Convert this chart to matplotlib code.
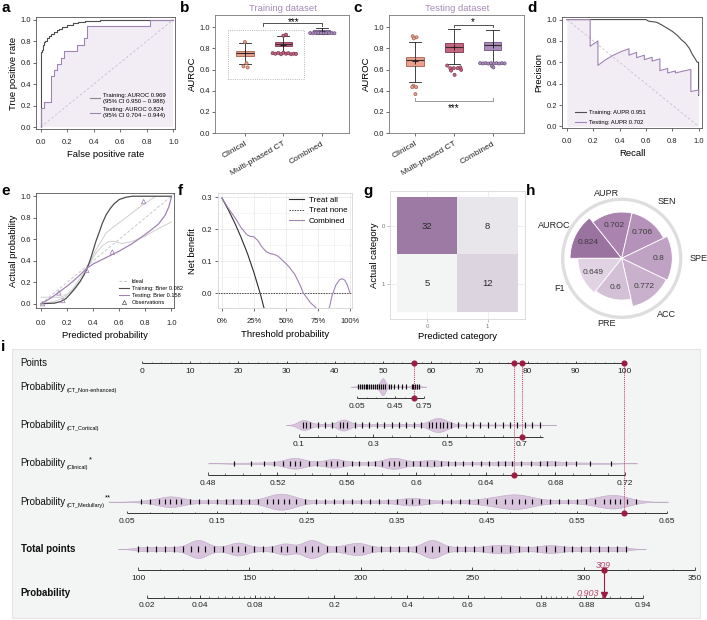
import numpy as np
import matplotlib
matplotlib.use("Agg")
import matplotlib.pyplot as plt
from matplotlib.lines import Line2D
from matplotlib.colors import LinearSegmentedColormap
from matplotlib import transforms

plt.rcParams['font.family'] = ['Liberation Sans', 'DejaVu Sans']
plt.rcParams['axes.linewidth'] = 0.6

W, H = 707, 620

DARK = '#4d4d4d'
PURPLE = '#a084b4'
FILL = '#f2edf5'
DIAG = '#c9bdd2'
CLIN, MULTI, COMB = '#e9a18d', '#c6667f', '#ab8dba'
CLIN_E, MULTI_E, COMB_E = '#a45f50', '#7e3450', '#6d5480'
RED = '#9e1c44'
RED_L = '#c2395e'

# ---------------- data ----------------
# a: ROC curves
roc_train_fpr = [0, 0, 0.005, 0.01, 0.015, 0.025, 0.035, 0.045, 0.06, 0.08, 0.10, 0.12,
                 0.14, 0.16, 0.20, 0.24, 0.28, 0.33, 0.45, 1.0]
roc_train_tpr = [0, 0.61, 0.70, 0.72, 0.76, 0.79, 0.80, 0.83, 0.85, 0.87, 0.88, 0.90,
                 0.91, 0.93, 0.95, 0.97, 0.98, 0.99, 1.0, 1.0]
roc_test_fpr = [0, 0, 0.025, 0.025, 0.075, 0.075, 0.1, 0.1, 0.125, 0.125, 0.15, 0.15,
                0.175, 0.175, 0.275, 0.275, 0.325, 0.325, 0.35, 0.35, 0.825, 0.825, 1.0]
roc_test_tpr = [0, 0.176, 0.176, 0.235, 0.235, 0.471, 0.471, 0.529, 0.529, 0.588, 0.588,
                0.647, 0.647, 0.706, 0.706, 0.765, 0.765, 0.824, 0.824, 0.941, 0.941, 1.0, 1.0]

# b / c: AUROC box plots
groups = ['Clinical', 'Multi-phased CT', 'Combined']
b_q1 = [0.725, 0.82, 0.945]
b_med = [0.755, 0.84, 0.958]
b_q3 = [0.78, 0.858, 0.972]
b_lo = [0.652, 0.758, 0.935]
b_hi = [0.852, 0.918, 0.99]
b_mean = [0.76, 0.835, 0.96]
b_fl_grp = [0, 0, 0, 0, 1, 1, 1, 1, 1, 1, 1, 1, 1, 1, 1, 1, 2, 2, 2, 2, 2, 2, 2, 2, 2, 2]
b_fl_off = [0.0, 0.04, -0.04, 0.07, -0.28, -0.21, -0.13, -0.06, 0.0, 0.07, 0.13, 0.2,
            0.27, 0.33, 0.0, 0.07, -0.3, -0.23, -0.16, -0.09, -0.02, 0.05, 0.12, 0.19, 0.26, 0.33]
b_fl_val = [0.86, 0.66, 0.63, 0.62, 0.755, 0.75, 0.757, 0.745, 0.76, 0.75, 0.755, 0.745,
            0.75, 0.748, 0.92, 0.93, 0.945, 0.943, 0.946, 0.944, 0.945, 0.943, 0.946, 0.944,
            0.945, 0.943]

c_q1 = [0.629, 0.77, 0.786]
c_med = [0.686, 0.818, 0.833]
c_q3 = [0.723, 0.855, 0.865]
c_lo = [0.484, 0.65, 0.66]
c_hi = [0.865, 0.98, 0.97]
c_mean = [0.68, 0.815, 0.828]
c_fl_grp = [0, 0, 0, 0, 0, 0, 0, 1, 1, 1, 1, 1, 1, 1, 1,
            2, 2, 2, 2, 2, 2, 2, 2, 2, 2, 2, 2]
c_fl_off = [-0.06, 0.04, -0.03, -0.04, 0.03, -0.07, 0.01, -0.17, -0.09, 0.0, 0.1, 0.19,
            0.02, -0.07, 0.17, -0.32, -0.25, -0.18, -0.11, -0.04, 0.03, 0.1, 0.17, 0.24,
            0.31, -0.02, 0.02]
c_fl_val = [0.915, 0.905, 0.895, 0.447, 0.434, 0.434, 0.368, 0.638, 0.613, 0.613, 0.613,
            0.597, 0.55, 0.59, 0.62, 0.66, 0.658, 0.66, 0.657, 0.66, 0.658, 0.66, 0.657,
            0.66, 0.658, 0.635, 0.62]

# d: PR curves
pr_train_rec = [0, 0.6, 0.62, 0.68, 0.72, 0.76, 0.8, 0.84, 0.87, 0.9, 0.93, 0.95, 0.97,
                0.99, 1.0, 1.0]
pr_train_pre = [1.0, 1.0, 0.985, 0.975, 0.95, 0.92, 0.89, 0.85, 0.81, 0.78, 0.73, 0.68,
                0.64, 0.6, 0.6, 0.29]
pr_test_rec = [0, 0.176, 0.176, 0.235, 0.235, 0.294, 0.353, 0.412, 0.471, 0.471, 0.529,
               0.529, 0.588, 0.588, 0.647, 0.647, 0.706, 0.706, 0.765, 0.765, 0.824, 0.824,
               0.882, 0.941, 0.941, 1.0, 1.0]
pr_test_pre = [1.0, 1.0, 0.75, 0.8, 0.571, 0.625, 0.667, 0.7, 0.727, 0.667, 0.692, 0.643,
               0.667, 0.625, 0.647, 0.611, 0.632, 0.522, 0.542, 0.5, 0.519, 0.5, 0.517,
               0.533, 0.327, 0.34, 0.298]

# e: calibration
cal_train_x = [0, 0.1, 0.15, 0.19, 0.23, 0.27, 0.3, 0.33, 0.35, 0.38, 0.4, 0.42, 0.45,
               0.47, 0.5, 0.53, 0.56, 0.6, 0.65, 0.7, 1.0]
cal_train_y = [0, 0.005, 0.02, 0.047, 0.1, 0.16, 0.21, 0.27, 0.32, 0.42, 0.5, 0.58, 0.68,
               0.75, 0.83, 0.885, 0.93, 0.97, 0.99, 1.0, 1.0]
cal_test_x = [0, 0.05, 0.1, 0.15, 0.2, 0.25, 0.3, 0.35, 0.4, 0.5, 0.6, 0.7, 0.8, 0.9,
              0.95, 0.98, 1.0]
cal_test_y = [0, 0.035, 0.075, 0.12, 0.165, 0.215, 0.27, 0.33, 0.37, 0.43, 0.49, 0.56,
              0.645, 0.74, 0.82, 0.9, 0.99]
cal_g1_x = [0.0, 0.15, 0.25, 0.3, 0.35, 0.42, 0.5, 0.55, 0.65, 0.78, 0.88]
cal_g1_y = [0.06, 0.06, 0.12, 0.2, 0.33, 0.5, 0.66, 0.71, 0.8, 0.92, 1.0]
cal_g2_x = [0.35, 0.42, 0.47, 0.52, 0.56, 0.62, 0.7, 0.8, 0.9, 1.0]
cal_g2_y = [0.33, 0.47, 0.54, 0.58, 0.58, 0.56, 0.58, 0.63, 0.7, 0.76]
cal_g3_x = [0.0, 0.1, 0.18, 0.25, 0.3, 0.35]
cal_g3_y = [0.0, 0.02, 0.06, 0.15, 0.24, 0.33]
obs_x = [0.01, 0.136, 0.167, 0.35, 0.546, 0.787]
obs_y = [0.0, 0.10, 0.03, 0.31, 0.48, 0.95]

# f: decision curve
dca_all_t = [0, 0.05, 0.1, 0.15, 0.2, 0.25, 0.3, 0.35]
dca_all_nb = [0.298, 0.261, 0.22, 0.174, 0.123, 0.064, -0.003, -0.08]
dca_comb_t = [0, 0.05, 0.104, 0.15, 0.195, 0.22, 0.247, 0.28, 0.31, 0.345, 0.377, 0.41,
              0.44, 0.48, 0.52, 0.57, 0.61, 0.636, 0.69, 0.75, 0.8, 0.84, 0.86, 0.89,
              0.92, 0.94, 0.96, 0.98, 1.0]
dca_comb_nb = [0.298, 0.266, 0.235, 0.205, 0.183, 0.178, 0.177, 0.165, 0.146, 0.13,
               0.124, 0.121, 0.115, 0.1, 0.084, 0.058, 0.025, 0.0, -0.03, -0.052, -0.065,
               -0.045, -0.008, 0.025, 0.042, 0.045, 0.04, 0.025, 0.0]

# g: confusion matrix (rows actual 0/1, cols predicted 0/1)
conf = [[32, 8], [5, 12]]

# h: metrics rose
metric_names = ['AUROC', 'AUPR', 'SEN', 'SPE', 'ACC', 'PRE', 'F1']
metric_vals = [0.824, 0.702, 0.706, 0.8, 0.772, 0.6, 0.649]
metric_cols = ['#9b73a0', '#aa83af', '#b492b9', '#bfa2c4', '#c9b1cd', '#d3c0d7', '#e1d3e4']

# i: nomogram (points = intercept + slope * value)
pts_int = [43.6, 24.9, -159.3, -12.4]
pts_slope = [19.86, 76.8, 360.4, 186.7]
tot_int, tot_slope = -47.05, 0.4622      # total points -> points-scale position
lp_int, lp_slope = -6.995, 0.02983       # total points -> logit(probability)
patient_vals = [0.646, 0.703, 0.656, 0.602]
patient_total = 309
patient_prob = 0.903

ne_vals = [0.06, 0.08, 0.10, 0.12, 0.14, 0.16, 0.18, 0.20, 0.22, 0.24, 0.26, 0.28, 0.30,
           0.32, 0.34, 0.38, 0.41, 0.44, 0.48, 0.52, 0.56, 0.62, 0.64, 0.66, 0.68, 0.70]
ne_cnt = [2, 2, 2, 2, 2, 2, 2, 2, 2, 2, 2, 2, 3, 30, 4, 1, 1, 1, 1, 1, 1, 3, 3, 3, 3, 2]
co_vals = [0.11, 0.12, 0.13, 0.15, 0.17, 0.19, 0.21, 0.22, 0.23, 0.25, 0.27, 0.29, 0.31,
           0.33, 0.35, 0.37, 0.39, 0.41, 0.43, 0.45, 0.46, 0.47, 0.48, 0.49, 0.50, 0.51,
           0.53, 0.55, 0.57, 0.59, 0.61, 0.63, 0.65, 0.67, 0.69, 0.71, 0.73, 0.75]
co_cnt = [14, 3, 2, 2, 2, 2, 3, 14, 3, 2, 2, 2, 2, 2, 2, 2, 2, 2, 2, 4, 6, 8, 8, 6, 4, 2,
          1, 1, 1, 1, 1, 1, 1, 1, 1, 1, 1, 1]
cl_vals = [0.495, 0.505, 0.512, 0.518, 0.523, 0.527, 0.530, 0.533, 0.538, 0.543, 0.548,
           0.551, 0.554, 0.558, 0.563, 0.567, 0.572, 0.576, 0.580, 0.584, 0.587, 0.590,
           0.594, 0.598, 0.602, 0.606, 0.610, 0.614, 0.618, 0.622, 0.627, 0.632, 0.637,
           0.642, 0.647, 0.651, 0.655, 0.660, 0.666, 0.671, 0.675, 0.680, 0.686, 0.692,
           0.700, 0.712]
cl_cnt = [1, 1, 1, 1, 1, 4, 4, 4, 1, 1, 1, 4, 4, 1, 1, 1, 1, 1, 1, 4, 4, 4, 1, 1, 1, 3,
          3, 1, 1, 1, 1, 1, 1, 1, 1, 2, 1, 1, 1, 1, 2, 2, 1, 1, 1, 1]
me_vals = [0.065, 0.075, 0.085, 0.092, 0.098, 0.104, 0.11, 0.12, 0.13, 0.14, 0.15, 0.16,
           0.168, 0.176, 0.185, 0.195, 0.205, 0.212, 0.218, 0.224, 0.23, 0.238, 0.248,
           0.26, 0.27, 0.28, 0.29, 0.30, 0.31, 0.32, 0.33, 0.34, 0.35, 0.36, 0.367, 0.374,
           0.385, 0.40, 0.41, 0.42, 0.43, 0.44, 0.45, 0.46, 0.47, 0.478, 0.485, 0.492,
           0.50, 0.51, 0.52, 0.53, 0.54, 0.55, 0.56, 0.57, 0.58, 0.586, 0.592, 0.598,
           0.605, 0.615]
me_cnt = [1, 1, 1, 4, 4, 4, 1, 1, 1, 1, 1, 1, 3, 1, 1, 1, 2, 5, 5, 5, 5, 2, 1, 1, 1, 1,
          1, 1, 1, 1, 1, 1, 1, 3, 3, 3, 1, 1, 1, 1, 1, 2, 3, 4, 5, 5, 5, 4, 3, 2, 1, 1, 1,
          1, 2, 3, 4, 4, 4, 4, 3, 1]
to_vals = [100, 104, 108, 112, 116, 120, 124, 127, 130, 134, 138, 142, 145, 148, 152, 156,
           160, 164, 167, 171, 175, 178, 181, 185, 189, 193, 197, 201, 205, 209, 213, 217,
           221, 225, 229, 232, 235, 239, 243, 247, 251, 255, 259, 263, 267, 271, 275, 279,
           283, 287, 291, 295, 299, 303, 307, 311, 315, 319]
to_cnt = [1, 1, 1, 1, 1, 1, 3, 4, 3, 1, 1, 2, 3, 2, 1, 1, 1, 2, 3, 1, 3, 4, 3, 1, 1, 2, 3,
          3, 1, 1, 1, 1, 1, 1, 3, 4, 3, 1, 1, 1, 1, 1, 2, 2, 2, 1, 1, 1, 2, 2, 1, 1, 1, 1,
          1, 1, 1, 1]

fig = plt.figure(figsize=(W / 100, H / 100), dpi=100)


def frac(x0, y0, x1, y1):
    return [x0 / W, 1 - y1 / H, (x1 - x0) / W, (y1 - y0) / H]


def rstyle(ax, xpad=4.5, ypad=1.2, frame='#555555'):
    for s in ax.spines.values():
        s.set_color(frame)
        s.set_linewidth(0.6)
    ax.tick_params(length=2.5, width=0.5, labelsize=5.5, color='#333333',
                   labelcolor='#222222')
    ax.tick_params(axis='x', pad=xpad)
    ax.tick_params(axis='y', pad=ypad)


def panel_label(x, y, s):
    fig.text(x / W, 1 - y / H, s, fontsize=11, fontweight='bold', va='top', ha='left')


ticks01 = np.arange(0, 1.01, 0.2)

# ---------------- a ----------------
ax = fig.add_axes(frac(36, 17, 175, 129))
ax.fill_between(roc_test_fpr, roc_test_tpr, 0, color=FILL, lw=0, zorder=0)
ax.plot([0, 1], [0, 1], ls=(0, (3, 2.5)), color=DIAG, lw=0.6)
ax.step(roc_train_fpr, roc_train_tpr, where='post', color=DARK, lw=0.8)
ax.plot(roc_test_fpr, roc_test_tpr, color=PURPLE, lw=0.8)
ax.set_xlim(-0.036, 1.012)
ax.set_ylim(-0.018, 1.024)
ax.set_xticks(ticks01)
ax.set_yticks(ticks01)
rstyle(ax)
ax.set_xlabel('False positive rate', fontsize=6.8, labelpad=3)
ax.set_ylabel('True positive rate', fontsize=6.8, labelpad=2)
ax.legend([Line2D([], [], color='#888888', lw=0.8), Line2D([], [], color=PURPLE, lw=0.8)],
          ['Training: AUROC 0.969\n(95% CI 0.950 \u2013 0.988)',
           'Testing: AUROC 0.824\n(95% CI 0.704 \u2013 0.944)'],
          loc='center left', bbox_to_anchor=(0.39, 0.21), fontsize=4.3, frameon=False,
          handlelength=1.7, handletextpad=0.5, labelspacing=0.6, borderpad=0,
          borderaxespad=0)
panel_label(1, 1, 'a')


# ---------------- b / c ----------------
def box_panel(rect, q1, med, q3, lo, hi, mean, fl_grp, fl_off, fl_val, xlim, title, tx):
    ax = fig.add_axes(frac(*rect))
    faces = [CLIN, MULTI, COMB]
    edges = [CLIN_E, MULTI_E, COMB_E]
    for i in range(3):
        st = dict(med=med[i], q1=q1[i], q3=q3[i], whislo=lo[i], whishi=hi[i],
                  mean=mean[i], fliers=[])
        ax.bxp([st], positions=[i + 1], widths=0.45, patch_artist=True, showmeans=True,
               showfliers=False, capwidths=0.32,
               boxprops=dict(facecolor=faces[i], edgecolor=edges[i], lw=0.6),
               medianprops=dict(color='#3a2a30', lw=0.8),
               whiskerprops=dict(color='#222222', lw=0.6),
               capprops=dict(color='#222222', lw=0.6),
               meanprops=dict(marker='+', markeredgecolor='#222222', markersize=4,
                              markeredgewidth=0.7))
    fx = [g + 1 + o for g, o in zip(fl_grp, fl_off)]
    ax.scatter(fx, fl_val, s=5, c=[faces[g] for g in fl_grp],
               edgecolors=[edges[g] for g in fl_grp], linewidths=0.5, zorder=4)
    ax.set_xlim(*xlim)
    ax.set_ylim(0, 1.116)
    ax.set_yticks(ticks01)
    ax.set_xticks([1, 2, 3])
    ax.set_xticklabels(groups, rotation=30, ha='right', rotation_mode='anchor')
    rstyle(ax, xpad=2.5, frame='#777777')
    ax.tick_params(axis='x', labelsize=6)
    ax.set_ylabel('AUROC', fontsize=6.8, labelpad=2)
    fig.text(tx / W, 1 - 8.5 / H, title, fontsize=6.8, color='#a48ab8', ha='center',
             va='center')
    return ax


ax = box_panel((215, 15, 349, 133), b_q1, b_med, b_q3, b_lo, b_hi, b_mean, b_fl_grp,
               b_fl_off, b_fl_val, (0.22, 3.71), 'Training dataset', 282.5)
ax.plot([0.55, 2.55, 2.55, 0.55, 0.55], [0.51, 0.51, 0.97, 0.97, 0.51], ls=':',
        color='#a0a0a0', lw=0.6)
ax.plot([1.48, 1.48, 3, 3], [1.013, 1.044, 1.044, 1.013], color='#333333', lw=0.6)
ax.text(2.26, 1.052, '***', ha='center', va='center', fontsize=7)
panel_label(180, 1, 'b')

ax = box_panel((389, 15, 524, 133), c_q1, c_med, c_q3, c_lo, c_hi, c_mean, c_fl_grp,
               c_fl_off, c_fl_val, (0.33, 3.81), 'Testing dataset', 456.7)
ax.plot([2, 2, 3, 3], [1.0, 1.022, 1.022, 1.0], color='#333333', lw=0.6)
ax.text(2.5, 1.045, '*', ha='center', va='center', fontsize=7)
ax.plot([1, 1, 3, 3], [0.33, 0.30, 0.30, 0.33], color='#888888', lw=0.6)
ax.text(2, 0.24, '***', ha='center', va='center', fontsize=7)
panel_label(353, 1, 'c')

# ---------------- d ----------------
ax = fig.add_axes(frac(562, 17, 702, 128))
ax.fill_between(pr_test_rec, pr_test_pre, 0, color=FILL, lw=0, zorder=0)
ax.plot([0, 1], [1, 0], ls=(0, (3, 2.5)), color=DIAG, lw=0.6)
ax.plot(pr_train_rec, pr_train_pre, color=DARK, lw=0.8)
ax.plot(pr_test_rec, pr_test_pre, color=PURPLE, lw=0.8)
ax.set_xlim(-0.038, 1.026)
ax.set_ylim(-0.015, 1.024)
ax.set_xticks(ticks01)
ax.set_yticks(ticks01)
rstyle(ax)
ax.set_xlabel('Recall', fontsize=6.8, labelpad=3)
ax.set_ylabel('Precision', fontsize=6.8, labelpad=2)
ax.legend([Line2D([], [], color=DARK, lw=0.8), Line2D([], [], color=PURPLE, lw=0.8)],
          ['Training: AUPR 0.951', 'Testing: AUPR 0.702'],
          loc='center left', bbox_to_anchor=(0.095, 0.095), fontsize=4.2, frameon=False,
          handlelength=1.8, handletextpad=0.6, labelspacing=0.9, borderpad=0,
          borderaxespad=0)
panel_label(527, 1, 'd')

# ---------------- e ----------------
ax = fig.add_axes(frac(36, 193, 174, 308))
ax.plot([0, 1.05], [0, 1.05], ls=(0, (3, 2)), color='#c8c8c8', lw=0.7)
for gx, gy in [(cal_g1_x, cal_g1_y), (cal_g2_x, cal_g2_y), (cal_g3_x, cal_g3_y)]:
    ax.plot(gx, gy, color='#cfcfcf', lw=0.7)
ax.plot(cal_train_x, cal_train_y, color=DARK, lw=0.9)
ax.plot(cal_test_x, cal_test_y, color=PURPLE, lw=0.9)
ax.scatter(obs_x, obs_y, marker='^', s=10, facecolors='none', edgecolors='#a88ab5',
           linewidths=0.6, zorder=4)
ax.set_xlim(-0.04, 1.02)
ax.set_ylim(-0.04, 1.03)
ax.set_xticks(ticks01)
ax.set_yticks(ticks01)
rstyle(ax, xpad=6)
ax.set_xlabel('Predicted probability', fontsize=6.8, labelpad=3)
ax.set_ylabel('Actual probability', fontsize=6.8, labelpad=2)
ax.legend([Line2D([], [], color='#c8c8c8', lw=0.7, ls=(0, (3, 2))),
           Line2D([], [], color=DARK, lw=0.8), Line2D([], [], color=PURPLE, lw=0.8),
           Line2D([], [], ls='', marker='^', ms=3, mfc='none', mec=DARK, mew=0.5)],
          ['Ideal', 'Training: Brier 0.082', 'Testing: Brier 0.158', 'Observations'],
          loc='lower left', bbox_to_anchor=(0.6, 0.03), fontsize=4.1, frameon=False,
          handlelength=1.8, handletextpad=0.5, labelspacing=0.35, borderpad=0,
          borderaxespad=0)
panel_label(1, 184, 'e')

# ---------------- f ----------------
ax = fig.add_axes(frac(218, 193, 352, 308))
ax.set_axisbelow(True)
ax.grid(True, which='major', color='#e6e6e6', lw=0.5)
ax.grid(True, which='minor', color='#f0f0f0', lw=0.4)
ax.plot(dca_all_t, dca_all_nb, color='#2e2e2e', lw=0.8, label='Treat all')
ax.axhline(0, color='#444444', lw=0.7, ls=(0, (1.5, 1.2)), label='Treat none')
ax.plot(dca_comb_t, dca_comb_nb, color=PURPLE, lw=0.8, label='Combined')
ax.set_xlim(-0.031, 1.016)
ax.set_ylim(-0.047, 0.314)
ax.set_xticks([0, 0.25, 0.5, 0.75, 1.0])
ax.set_xticklabels(['0%', '25%', '50%', '75%', '100%'])
ax.set_xticks([0.125, 0.375, 0.625, 0.875], minor=True)
ax.set_yticks([0, 0.1, 0.2, 0.3])
ax.set_yticks([0.05, 0.15, 0.25], minor=True)
rstyle(ax, xpad=5, ypad=2, frame='#d5d5d5')
ax.tick_params(which='minor', length=0)
ax.set_xlabel('Threshold probability', fontsize=6.8, labelpad=3)
ax.set_ylabel('Net benefit', fontsize=6.8, labelpad=3)
ax.legend(loc='upper right', bbox_to_anchor=(1.01, 1.02), fontsize=5.8, frameon=False,
          handlelength=1.9, handletextpad=0.6, labelspacing=0.35, borderpad=0.2)
panel_label(178, 184, 'f')

# ---------------- g ----------------
ax = fig.add_axes(frac(390, 191, 525, 319))
cmap = LinearSegmentedColormap.from_list('cm', ['#f3f4f4', '#9c7aa4'])
ax.set_axisbelow(True)
ax.grid(True, color='#e8e8e8', lw=0.5)
ax.imshow(conf, cmap=cmap, vmin=5, vmax=32, extent=(-0.5, 1.5, 1.5, -0.5), zorder=2)
for r in range(2):
    for c in range(2):
        ax.text(c, r, str(conf[r][c]), ha='center', va='center', fontsize=6.8,
                color='#2a2a2a', zorder=3)
ax.set_xlim(-0.62, 1.62)
ax.set_ylim(1.62, -0.62)
ax.set_aspect('auto')
ax.set_xticks([0, 1])
ax.set_yticks([0, 1])
for s in ax.spines.values():
    s.set_color('#d8d8d8')
    s.set_linewidth(0.6)
ax.tick_params(length=2, width=0.4, labelsize=4.3, color='#999999', labelcolor='#777777',
               pad=1.5)
ax.set_xlabel('Predicted category', fontsize=6.8, labelpad=2)
ax.set_ylabel('Actual category', fontsize=6.8, labelpad=2)
panel_label(363, 184, 'g')

# ---------------- h ----------------
axh = fig.add_axes(frac(559.7, 196.3, 683.7, 320.3), projection='polar')
axh.set_theta_zero_location('W')
axh.set_theta_direction(-1)
axh.set_ylim(-0.35, 1.06)
wd = 2 * np.pi / len(metric_vals)
th = np.arange(len(metric_vals)) * wd
axh.bar(0, 0.075, width=2 * np.pi, bottom=0.955, align='edge', color='#dedede', lw=0)
axh.bar(th, np.array(metric_vals) + 0.35, width=wd, bottom=-0.35, align='edge',
        color=metric_cols, edgecolor='white', lw=0.6)
lab_r = [1.36, 1.15, 1.29, 1.39, 1.29, 1.18, 1.21]
for i, (nm, v) in enumerate(zip(metric_names, metric_vals)):
    a = th[i] + wd / 2
    axh.text(a, (v + 0.35) * 0.72 - 0.35, f'{v:g}', ha='center', va='center',
             fontsize=6, color='#3d3d3d')
    axh.text(a, lab_r[i], nm, ha='center', va='center', fontsize=6.5, color='#222222',
             clip_on=False)
axh.axis('off')
panel_label(526, 184, 'h')

# ---------------- i: nomogram ----------------
PX0, PX1, PY0, PY1 = 12, 700, 349, 618
P0_PX, P100_PX = 142, 624
axn = fig.add_axes(frac(PX0, PY0, PX1, PY1))
axn.set_xlim((PX0 - P0_PX) / (P100_PX - P0_PX) * 100, (PX1 - P0_PX) / (P100_PX - P0_PX) * 100)
axn.set_ylim(PY1, PY0)
axn.set_facecolor('#f3f5f5')
for s in axn.spines.values():
    s.set_color('#e0e3e3')
    s.set_linewidth(0.6)
axn.set_xticks([])
axn.set_yticks([])
panel_label(1, 340, 'i')

AXC = '#333333'
VIO_F, VIO_E = '#d8c4dc', '#c0a7c6'
Y_PTS, Y_NE, Y_CO, Y_CL, Y_ME, Y_TO, Y_PR = 363.3, 386.7, 425.0, 463.3, 501.7, 549.0, 597.5
AX_DY = 11.6


def var_pts(i, v):
    return pts_int[i] + pts_slope[i] * np.asarray(v, float)


def tot_pts(t):
    return tot_int + tot_slope * np.asarray(t, float)


def prob_pts(p):
    p = np.asarray(p, float)
    return tot_pts((np.log(p / (1 - p)) - lp_int) / lp_slope)


def nomo_axis(xmaj, xmin, labels, y, lo=None, hi=None):
    xall = np.concatenate([np.atleast_1d(xmaj), np.atleast_1d(xmin)])
    lo = xall.min() if lo is None else lo
    hi = xall.max() if hi is None else hi
    axn.plot([lo, hi], [y, y], color=AXC, lw=0.7, solid_capstyle='butt')
    axn.vlines(xmaj, y - 2.6, y, color=AXC, lw=0.6)
    axn.vlines(xmin, y - 1.5, y, color=AXC, lw=0.45)
    for xv, lb in zip(xmaj, labels):
        axn.text(xv, y + 8.2, lb, ha='center', va='center', fontsize=6, color='#222222')


def violin(xfun, vals, cnt, y, bw, half_h):
    v = np.asarray(vals, float)
    w = np.asarray(cnt, float)
    g = np.linspace(v.min() - 3 * bw, v.max() + 3 * bw, 500)
    d = (w[None, :] * np.exp(-0.5 * ((g[:, None] - v[None, :]) / bw) ** 2)).sum(1)
    d = d / d.max() * half_h
    axn.fill_between(xfun(g), y - d, y + d, facecolor=VIO_F, edgecolor=VIO_E, lw=0.4)
    axn.vlines(xfun(v), y - 2.6, y + 2.6, color='#111111', lw=0.85)


lab_tr = transforms.blended_transform_factory(axn.transAxes, axn.transData)
LAB_X = (20.7 - PX0) / (PX1 - PX0)


def row_label(y, main, sub=None, star=None, bold=False):
    t = axn.text(LAB_X, y, main, transform=lab_tr, fontsize=7, va='center', ha='left',
                 fontweight='bold' if bold else 'normal', color='#111111')
    if sub:
        s = axn.annotate(sub, xy=(1, 0.12), xycoords=t, xytext=(0.3, 0),
                         textcoords='offset points', fontsize=4.0, va='center', ha='left')
        if star:
            axn.annotate(star, xy=(1, 0.85), xycoords=(s, t), xytext=(0.8, 0),
                         textcoords='offset points', fontsize=5.5, va='center', ha='left')


# Points
row_label(Y_PTS, 'Points')
nomo_axis(np.arange(0, 101, 10), np.arange(2, 100, 2), [str(v) for v in range(0, 101, 10)],
          Y_PTS)

# Non-enhanced
row_label(Y_NE, 'Probability', '(CT_Non-enhanced)')
violin(lambda v: var_pts(0, v), ne_vals, ne_cnt, Y_NE, 0.025, 8.5)
nomo_axis(var_pts(0, [0.05, 0.45, 0.75]), var_pts(0, np.arange(0.15, 0.7, 0.1)),
          ['0.05', '0.45', '0.75'], Y_NE + AX_DY)

# Cortical
row_label(Y_CO, 'Probability', '(CT_Cortical)')
violin(lambda v: var_pts(1, v), co_vals, co_cnt, Y_CO, 0.015, 7)
nomo_axis(var_pts(1, [0.1, 0.3, 0.5, 0.7]), var_pts(1, np.arange(0.15, 0.76, 0.05)),
          ['0.1', '0.3', '0.5', '0.7'], Y_CO + AX_DY, hi=var_pts(1, 0.76))

# Clinical
row_label(Y_CL, 'Probability', '(Clinical)', '*')
violin(lambda v: var_pts(2, v), cl_vals, cl_cnt, Y_CL, 0.005, 5.5)
cl_major = [0.48, 0.52, 0.56, 0.6, 0.64, 0.68, 0.72]
nomo_axis(var_pts(2, cl_major), var_pts(2, np.arange(0.49, 0.72, 0.01)),
          [f'{v:g}' for v in cl_major], Y_CL + AX_DY)

# Medullary
row_label(Y_ME, 'Probability', '(CT_Medullary)', '**')
violin(lambda v: var_pts(3, v), me_vals, me_cnt, Y_ME, 0.012, 8)
me_major = [0.05, 0.15, 0.25, 0.35, 0.45, 0.55, 0.65]
nomo_axis(var_pts(3, me_major), var_pts(3, np.arange(0.075, 0.65, 0.025)),
          [f'{v:g}' for v in me_major], Y_ME + AX_DY)

# Total points
row_label(Y_TO, 'Total points', bold=True)
violin(tot_pts, to_vals, to_cnt, Y_TO, 3.0, 9)
to_major = [100, 150, 200, 250, 300, 350]
nomo_axis(tot_pts(to_major), tot_pts(np.arange(110, 350, 10)), [str(v) for v in to_major],
          Y_TO + 21)

# Probability
row_label(Y_PR - 5, 'Probability', bold=True)
pr_major = [0.02, 0.04, 0.08, 0.2, 0.4, 0.6, 0.8, 0.88, 0.94]
pr_minor = np.concatenate([np.arange(0.025, 0.1, 0.005), np.arange(0.1, 0.8, 0.05),
                           np.arange(0.81, 0.94, 0.01)])
nomo_axis(prob_pts(pr_major), prob_pts(pr_minor), [f'{v:g}' for v in pr_major], Y_PR)

# patient overlay
row_y = [Y_NE + AX_DY, Y_CO + AX_DY, Y_CL + AX_DY, Y_ME + AX_DY]
for i, v in enumerate(patient_vals):
    xp = var_pts(i, v)
    axn.plot([xp, xp], [Y_PTS, row_y[i]], ls=(0, (1, 1)), color=RED_L, lw=0.7)
    axn.plot(xp, row_y[i], 'o', ms=3.4, color=RED, zorder=5)
    axn.plot(xp, Y_PTS, 'o', ms=3.4, color=RED, zorder=5)
xt = tot_pts(patient_total)
axn.plot([xt, xt], [Y_TO + 21, Y_PR - 3], color=RED, lw=0.8)
axn.plot(xt, Y_TO + 21, 'o', ms=3.6, color=RED, zorder=5)
axn.plot(xt, Y_PR - 2.6, 'v', ms=4.5, color=RED, zorder=5)
axn.text(xt, Y_TO + 17, str(patient_total), ha='center', va='center', fontsize=6.5,
         style='italic', color='#b5486a')
axn.annotate(f'{patient_prob:g}', xy=(xt, Y_PR - 3.5), xytext=(-3.5, 0),
             textcoords='offset points', ha='right', va='center', fontsize=6.5,
             style='italic', color='#b5486a')

fig.savefig('out.png', dpi=100)
